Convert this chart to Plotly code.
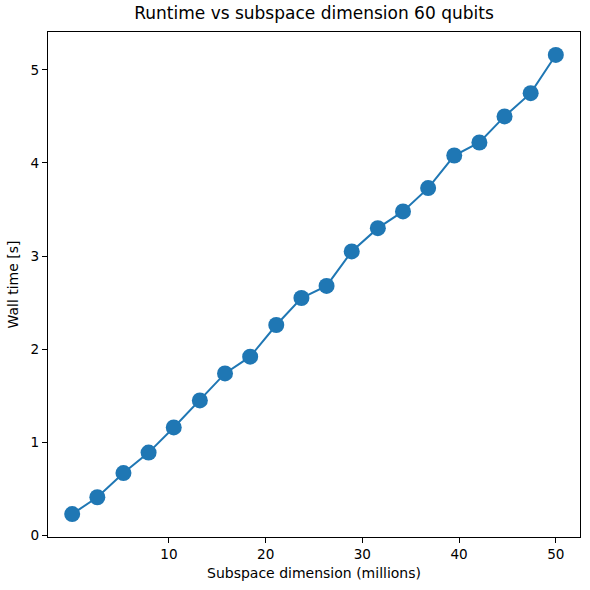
import plotly.graph_objects as go

# subspace dimension (millions) and measured wall time (s)
dims = [0.0, 2.6, 5.3, 7.9, 10.5, 13.2, 15.8, 18.4, 21.1, 23.7,
        26.3, 28.9, 31.6, 34.2, 36.8, 39.5, 42.1, 44.7, 47.4, 50.0]
wall_time = [0.23, 0.41, 0.67, 0.89, 1.16, 1.45, 1.74, 1.92, 2.26, 2.55,
             2.68, 3.05, 3.30, 3.48, 3.73, 4.08, 4.22, 4.50, 4.75, 5.16]
x_ticks = [10, 20, 30, 40, 50]
y_ticks = [0, 1, 2, 3, 4, 5]

blue = '#1f77b4'
font = 'DejaVu Sans'

fig = go.Figure()
fig.add_trace(go.Scatter(x=dims, y=wall_time, mode='lines+markers',
                         line=dict(color=blue, width=2),
                         marker=dict(color=blue, size=16, line=dict(width=0))))

axis_common = dict(showline=True, linecolor='black', linewidth=1, mirror=True,
                   ticks='outside', ticklen=5, tickwidth=1, tickcolor='black',
                   showgrid=False, zeroline=False, automargin=False,
                   tickfont=dict(family=font, size=13.6, color='black'))

pad = 0.05 * (max(wall_time) - min(wall_time))
fig.update_layout(
    width=590, height=590,
    margin=dict(l=48, r=10, t=32, b=53),
    plot_bgcolor='white', paper_bgcolor='white',
    showlegend=False,
    title=dict(text='Runtime vs subspace dimension 60 qubits',
               font=dict(family=font, size=17, color='black'),
               x=(48 + 580) / 2 / 590, xanchor='center',
               yref='container', y=1 - 13 / 590, yanchor='middle'),
    xaxis=dict(range=[-2.5, 52.5], tickvals=x_ticks,
               title=dict(text='Subspace dimension (millions)', standoff=6,
                          font=dict(family=font, size=14, color='black')),
               **axis_common),
    yaxis=dict(range=[min(wall_time) - pad, max(wall_time) + pad], tickvals=y_ticks,
               title=dict(text='Wall time [s]', standoff=8,
                          font=dict(family=font, size=14, color='black')),
               **axis_common),
)

# drop the default page margin so the figure sits at the window corner
fig.write_html('out.html', config={'displayModeBar': False},
               post_script="document.body.style.margin='0';")
